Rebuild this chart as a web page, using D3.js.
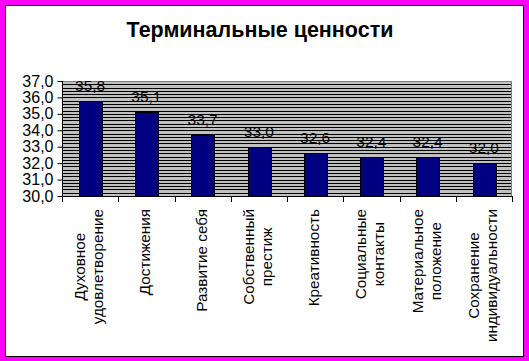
<!DOCTYPE html>
<html><head><meta charset="utf-8">
<script src="https://cdn.jsdelivr.net/npm/d3@7"></script>
<style>html,body{margin:0;padding:0;background:#fff;}svg{display:block;}</style>
</head><body>
<script>
const title = "Терминальные ценности";
const categories = [
  ["Духовное", "удовлетворение"],
  ["Достижения"],
  ["Развитие себя"],
  ["Собственный", "престиж"],
  ["Креативность"],
  ["Социальные", "контакты"],
  ["Материальное", "положение"],
  ["Сохранение", "индивидуальности"]
];
const values = [35.8, 35.1, 33.7, 33.0, 32.6, 32.4, 32.4, 32.0];
const valueLabels = ["35,8", "35,1", "33,7", "33,0", "32,6", "32,4", "32,4", "32,0"];
const yTicks = [30, 31, 32, 33, 34, 35, 36, 37];
const yTickLabels = ["30,0", "31,0", "32,0", "33,0", "34,0", "35,0", "36,0", "37,0"];
const minorStep = 0.2;

const W = 529, H = 361;
const plot = {left: 62, top: 81, right: 512, bottom: 196};
const font = "Arial, 'Liberation Sans', sans-serif";

const svg = d3.select("body").append("svg").attr("width", W).attr("height", H);
svg.append("rect").attr("width", W).attr("height", H).attr("fill", "#ff00ff");
svg.append("rect").attr("x", 5.5).attr("y", 5.5).attr("width", 518).attr("height", 351)
  .attr("fill", "#fff").attr("stroke", "#000").attr("stroke-width", 1);

svg.append("text").attr("x", 260).attr("y", 37).attr("text-anchor", "middle")
  .attr("font-family", font).attr("font-weight", "bold").attr("font-size", 21.5).text(title);

const x = d3.scaleBand().domain(d3.range(categories.length)).range([plot.left, plot.right]).paddingInner(0.6).paddingOuter(0.3);
const xb = d3.scaleBand().domain(d3.range(categories.length)).range([plot.left, plot.right]);
const y = d3.scaleLinear().domain([30, 37]).range([plot.bottom, plot.top]);

svg.append("rect").attr("x", plot.left).attr("y", plot.top)
  .attr("width", plot.right - plot.left).attr("height", plot.bottom - plot.top)
  .attr("fill", "#c0c0c0");

const gridVals = d3.range(30 + minorStep, 37 + 1e-9, minorStep);
svg.append("g").selectAll("line").data(gridVals).join("line")
  .attr("x1", plot.left).attr("x2", plot.right)
  .attr("y1", d => Math.round(y(d)) + 0.5).attr("y2", d => Math.round(y(d)) + 0.5)
  .attr("stroke", "#000").attr("stroke-width", 1);

svg.append("rect").attr("x", plot.left + 0.5).attr("y", plot.top + 0.5)
  .attr("width", plot.right - plot.left - 1).attr("height", plot.bottom - plot.top)
  .attr("fill", "none").attr("stroke", "#808080");

svg.append("g").selectAll("rect").data(values).join("rect")
  .attr("x", (d, i) => Math.round(x(i)) + 0.5)
  .attr("y", d => Math.round(y(d)) + 0.5)
  .attr("width", Math.round(x.bandwidth()))
  .attr("height", d => Math.round(y(30)) - Math.round(y(d)))
  .attr("fill", "#000080").attr("stroke", "#000");

svg.append("g").selectAll("text").data(values).join("text")
  .attr("x", (d, i) => xb(i) + xb.bandwidth() / 2)
  .attr("y", d => y(d) - 10)
  .attr("text-anchor", "middle").attr("font-family", font).attr("font-size", 15.5)
  .attr("fill", "#000").text((d, i) => valueLabels[i]);

const yAxis = d3.axisLeft(y).tickValues(yTicks).tickFormat((d, i) => yTickLabels[i]).tickSize(5).tickPadding(4);
const gy = svg.append("g").attr("transform", `translate(${plot.left + 0.5},0)`).call(yAxis);
gy.select(".domain").attr("d", `M0,${plot.top}V${plot.bottom + 0.5}`);
gy.selectAll("text").attr("font-family", font).attr("font-size", 16).attr("fill", "#000");
gy.selectAll("line").attr("stroke", "#000");

const gx = svg.append("g");
gx.append("line").attr("x1", plot.left).attr("x2", plot.right + 1)
  .attr("y1", plot.bottom + 0.5).attr("y2", plot.bottom + 0.5).attr("stroke", "#000");
gx.selectAll("line.t").data(d3.range(categories.length + 1)).join("line").attr("class", "t")
  .attr("x1", i => Math.round(plot.left + i * xb.bandwidth()) + 0.5)
  .attr("x2", i => Math.round(plot.left + i * xb.bandwidth()) + 0.5)
  .attr("y1", plot.bottom).attr("y2", plot.bottom + 6).attr("stroke", "#000");

const lineH = 18, labelTop = 209;
categories.forEach((lines, i) => {
  const cx = xb(i) + xb.bandwidth() / 2;
  const g = svg.append("g");
  const texts = lines.map((s, j) => g.append("text").attr("font-family", font).attr("font-size", 15.3)
    .attr("text-anchor", "middle").attr("fill", "#000").text(s));
  const maxLen = d3.max(texts, t => t.node().getComputedTextLength());
  const cy = labelTop + maxLen / 2;
  texts.forEach((t, j) => {
    const bx = cx + 4 + (j - (lines.length - 1) / 2) * lineH;
    t.attr("transform", `translate(${bx},${cy}) rotate(-90)`);
  });
});
</script>
</body></html>
